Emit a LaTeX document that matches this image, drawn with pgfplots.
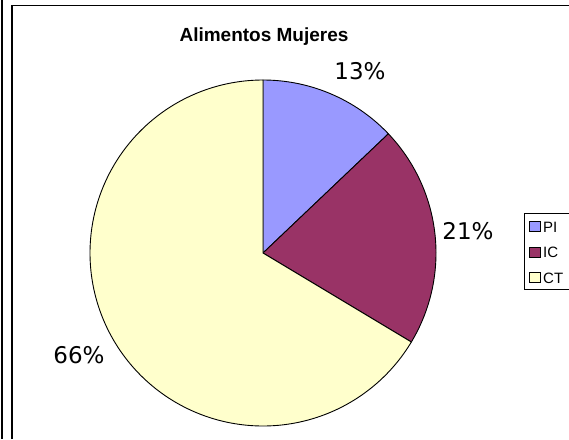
\documentclass[border=0pt]{standalone}
\usepackage{pgfplots}
\usepackage{pgfplotstable}
\pgfplotsset{compat=1.18}
\usepackage{fontspec}
\setmainfont{Liberation Sans}
\newfontfamily\labfont{DejaVu Sans}
\definecolor{cPI}{HTML}{9999FF}
\definecolor{cIC}{HTML}{993366}
\definecolor{cCT}{HTML}{FFFFCC}
\pgfplotstableread{
name value
PI 12.9
IC 20.7
CT 66.4
}\pietable
\pgfplotstablegetelem{0}{value}\of\pietable\let\vPI\pgfplotsretval%
\pgfplotstablegetelem{1}{value}\of\pietable\let\vIC\pgfplotsretval%
\pgfplotstablegetelem{2}{value}\of\pietable\let\vCT\pgfplotsretval%
\pgfmathsetmacro\aA{90}%
\pgfmathsetmacro\aB{\aA-3.6*\vPI}%
\pgfmathsetmacro\aC{\aB-3.6*\vIC}%
\pgfmathsetmacro\aD{\aC-3.6*\vCT}%
\begin{document}%
\begin{tikzpicture}
\begin{axis}[width=569pt, height=439pt, scale only axis,
  xmin=0, xmax=569, ymin=0, ymax=439, y dir=reverse, hide axis]
\fill[white] (0,0) rectangle (569,439);
% outer frame lines
\draw[line width=1.5pt] (1.8,0) -- (1.8,439);
\draw[line width=1.3pt] (12,439) -- (12,5.5) -- (569,5.5);
% pie slices
\addplot[draw=black, line width=0.9pt, fill=cPI, domain=\aB:\aA, samples=80]
  ({263+173*cos(x)},{253-173*sin(x)}) -- (263,253) -- cycle;
\addplot[draw=black, line width=0.9pt, fill=cIC, domain=\aC:\aB, samples=80]
  ({263+173*cos(x)},{253-173*sin(x)}) -- (263,253) -- cycle;
\addplot[draw=black, line width=0.9pt, fill=cCT, domain=\aD:\aC, samples=200]
  ({263+173*cos(x)},{253-173*sin(x)}) -- (263,253) -- cycle;
% title
\node[anchor=base, font=\bfseries\fontsize{19}{22}\selectfont] at (264,41.5) {Alimentos Mujeres};
% data labels
\node[anchor=base, font=\labfont\fontsize{23}{27}\selectfont] at (360,79) {13\%};
\node[anchor=base, font=\labfont\fontsize{23}{27}\selectfont] at (468,239) {21\%};
\node[anchor=base, font=\labfont\fontsize{23}{27}\selectfont] at (79,363) {66\%};
% legend
\draw[line width=1pt] (569,213) -- (524,213) -- (524,289) -- (569,289);
\filldraw[fill=cPI, draw=black, line width=0.9pt] (529.5,221.5) rectangle (540,231.5);
\filldraw[fill=cIC, draw=black, line width=0.9pt] (529.5,247) rectangle (540,257);
\filldraw[fill=cCT, draw=black, line width=0.9pt] (529.5,272.5) rectangle (540,282.5);
\node[anchor=base west, inner sep=0pt, font=\fontsize{15}{17}\selectfont] at (543,232) {PI};
\node[anchor=base west, inner sep=0pt, font=\fontsize{15}{17}\selectfont] at (543,257.5) {IC};
\node[anchor=base west, inner sep=0pt, font=\fontsize{15}{17}\selectfont] at (543,283) {CT};
\end{axis}
\end{tikzpicture}%
\end{document}
